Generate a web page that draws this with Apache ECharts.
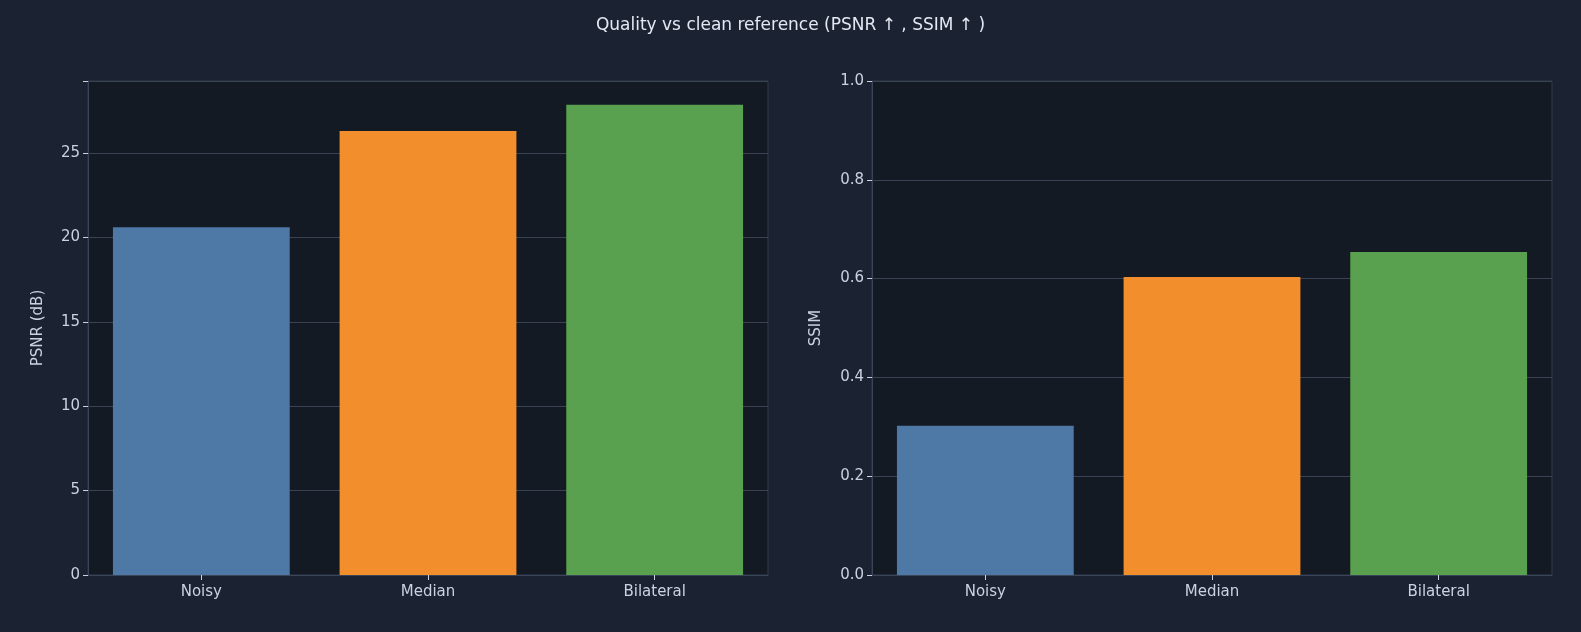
<!DOCTYPE html>
<html><head><meta charset="utf-8">
<script src="https://cdn.jsdelivr.net/npm/echarts@6/dist/echarts.min.js"></script>
<style>html,body{margin:0;padding:0;background:#1b2333;}#c{width:1581px;height:632px;}</style>
</head><body><div id="c"></div>
<script>
const categories = ['Noisy', 'Median', 'Bilateral'];
const psnrValues = [20.6, 26.3, 27.85];
const ssimValues = [0.302, 0.603, 0.654];
const barColors = ['#4e79a7', '#f28e2b', '#59a14f'];
const psnrTicks = [0, 5, 10, 15, 20, 25];
const ssimTicks = [0, 0.2, 0.4, 0.6, 0.8, 1.0];

const chart = echarts.init(document.getElementById('c'));
const txt = '#c9d3e0';
const font = 'DejaVu Sans';
function xAx(i){return {type:'category',gridIndex:i,data:categories,
  axisLine:{lineStyle:{color:'#3a4558'}},axisTick:{show:true,alignWithLabel:true,length:5,lineStyle:{color:'#c9d3e0'}},
  axisLabel:{color:txt,fontSize:15,fontFamily:font,margin:10}};}
function yAx(i,max,interval,name,dec){return {type:'value',gridIndex:i,min:0,max:max,interval:interval,
  name:name,nameLocation:'middle',nameGap:dec?48:42,nameTextStyle:{color:txt,fontSize:15,fontFamily:font},
  axisLine:{show:true,lineStyle:{color:'#3a4558'}},axisTick:{show:true,length:5,lineStyle:{color:'#c9d3e0'}},
  splitLine:{lineStyle:{color:'#3a4353',width:1}},
  axisLabel:{color:txt,fontSize:15,fontFamily:font,formatter:v=>{
    if(dec) return v.toFixed(1);
    return psnrTicks.includes(v)?String(v):'';}}};}
chart.setOption({
  backgroundColor:'#1b2333',
  title:{text:'Quality vs clean reference (PSNR ↑ , SSIM ↑ )',left:'center',top:12,
    textStyle:{color:'#e3e9f2',fontSize:17,fontWeight:'normal',fontFamily:font}},
  grid:[{left:88,top:81,width:680,height:494,backgroundColor:'#131a24',show:true,borderColor:'#2f3a4c'},
        {left:872,top:81,width:680,height:494,backgroundColor:'#131a24',show:true,borderColor:'#2f3a4c'}],
  xAxis:[xAx(0),xAx(1)],
  yAxis:[yAx(0,29.26,5,'PSNR (dB)',false),yAx(1,1.0,0.2,'SSIM',true)],
  series:[
    {type:'bar',xAxisIndex:0,yAxisIndex:0,barCategoryGap:'22%',
     data:psnrValues.map((v,i)=>({value:v,itemStyle:{color:barColors[i]}}))},
    {type:'bar',xAxisIndex:1,yAxisIndex:1,barCategoryGap:'22%',
     data:ssimValues.map((v,i)=>({value:v,itemStyle:{color:barColors[i]}}))}
  ]
});
</script></body></html>
